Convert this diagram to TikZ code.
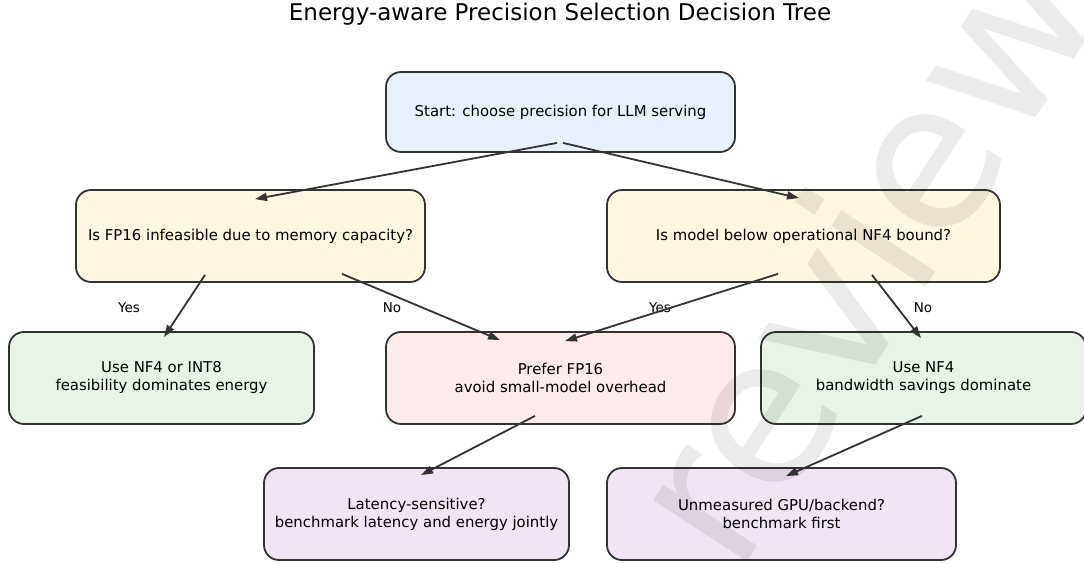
\documentclass[tikz,border=0pt]{standalone}
\usepackage{fontspec}
\setmainfont{DejaVu Sans}
\usetikzlibrary{arrows.meta}
\definecolor{linegray}{HTML}{333333}
\definecolor{startfill}{HTML}{E8F0FE}
\definecolor{askfill}{HTML}{FEF6E0}
\definecolor{usefill}{HTML}{E7F4E7}
\definecolor{fpfill}{HTML}{FDEAEA}
\definecolor{benchfill}{HTML}{F1E4F5}

\begin{document}
\begin{tikzpicture}[x=1pt,y=-1pt]
\useasboundingbox (0,0) rectangle (1084,563);
\node (title) at (560,14) {\fontsize{23}{27}\selectfont Energy-aware Precision Selection Decision Tree};

\begin{scope}[every node/.style={rectangle,rounded corners=15pt,draw=linegray,line width=1.8pt,
              align=center,inner sep=0pt,minimum height=92pt,font=\fontsize{14.9}{18}\selectfont}]
    \node[fill=startfill,minimum width=349pt,minimum height=80pt] (S) at (560.5,112) {Start: choose precision for LLM serving};
    \node[fill=askfill,minimum width=349pt] (Q1) at (250.5,236) {Is FP16 infeasible due to memory capacity?};
    \node[fill=askfill,minimum width=393pt] (Q2) at (803.5,236) {Is model below operational NF4 bound?};
    \node[fill=usefill,minimum width=305pt] (R1) at (161.5,378) {Use NF4 or INT8\\feasibility dominates energy};
    \node[fill=fpfill,minimum width=349pt] (R2) at (560.5,378) {Prefer FP16\\avoid small-model overhead};
    \node[fill=usefill,minimum width=325pt] (R3) at (923.5,378) {Use NF4\\bandwidth savings dominate};
    \node[fill=benchfill,minimum width=305pt] (B1) at (416.5,514) {Latency-sensitive?\\benchmark latency and energy jointly};
    \node[fill=benchfill,minimum width=349pt] (B2) at (781.5,514) {Unmeasured GPU/backend?\\benchmark first};
\end{scope}

\begin{scope}[every node/.style={font=\fontsize{13.5}{16}\selectfont}]
    \node (Y1) at (129,308) {Yes};
    \node (N1) at (392,308) {No};
    \node (Y2) at (660,308) {Yes};
    \node (N2) at (923,308) {No};
\end{scope}

\begin{scope}[>={Triangle[length=12pt,width=8pt]},
              every edge/.style={draw=linegray,line width=1.8pt}]
    % от старта
    \path [->] ([shift={(-3.5,-10)}]S.south) edge ([shift={(4.5,10)}]Q1.north);
    \path [->] ([shift={(2.5,-10)}]S.south) edge ([shift={(-4.5,9)}]Q2.north);
    % память
    \path [->] ([shift={(-45.5,-8)}]Q1.south) edge ([shift={(2.5,6)}]R1.north);
    \path [->] ([shift={(91.5,-9)}]Q1.south) edge ([shift={(-60.5,9)}]R2.north);
    % граница NF4
    \path [->] ([shift={(-25.5,-9)}]Q2.south) edge ([shift={(4.5,10)}]R2.north);
    \path [->] ([shift={(68.5,-8)}]Q2.south) edge ([shift={(-2.5,7)}]R3.north);
    % замеры
    \path [->] ([shift={(-25.5,-9)}]R2.south) edge ([shift={(4.5,8)}]B1.north);
    \path [->] ([shift={(-1.5,-9)}]R3.south) edge ([shift={(4.5,9)}]B2.north);
\end{scope}

\node[rotate=57,text=black,text opacity=0.08,font=\fontsize{205}{205}\selectfont] (mark) at (858,252) {review};
\end{tikzpicture}
\end{document}
